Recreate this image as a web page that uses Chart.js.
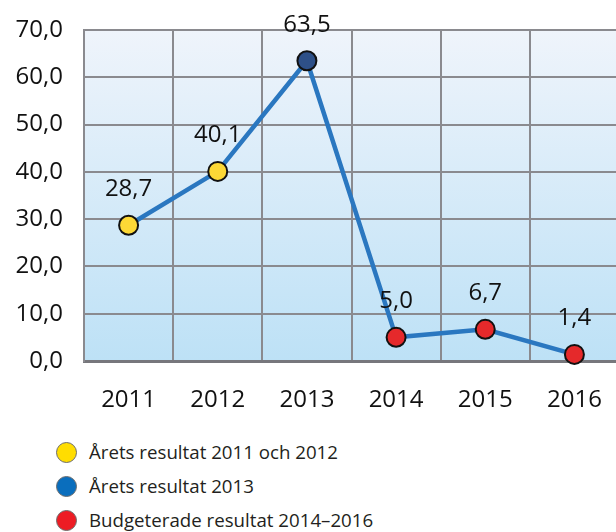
<!doctype html>
<html lang="sv">
  <head>
    <meta charset="utf-8">
    <title>Resultat 2011–2016</title>
    <style>
      * { margin: 0; padding: 0; }
      body { width: 616px; height: 532px; background: #fff; position: relative; overflow: hidden; font-family: "Open Sans", sans-serif; }
      .chartBox { position: absolute; left: 0; top: 0; width: 619px; height: 420px; }
      .legend { position: absolute; left: 56px; top: 441px; }
      .legend div { height: 34px; display: flex; align-items: flex-start; font-size: 18.7px; line-height: 22px; color: #231f20; }
      .legend span { display: inline-block; width: 21px; height: 21px; border-radius: 50%; border: 1px solid #6d6d6d; box-sizing: border-box; margin-right: 12px; margin-top: 1px; }
    </style>
  </head>
  <body>
    <div class="chartBox"><canvas id="lineChart" width="619" height="420"></canvas></div>
    <div class="legend" id="legend"></div>

    <script src="https://cdn.jsdelivr.net/npm/chart.js"></script>
    <script>
    // data
    const years = ['2011', '2012', '2013', '2014', '2015', '2016'];
    const result = [28.7, 40.1, 63.5, 5.0, 6.7, 1.4];
    const pointColors = ['#fcd836', '#fcd836', '#2e5088', '#e5292b', '#e5292b', '#e5292b'];
    const yTicks = [0, 10, 20, 30, 40, 50, 60, 70];
    const legendLabels = ['Årets resultat 2011 och 2012', 'Årets resultat 2013', 'Budgeterade resultat 2014–2016'];
    const legendColors = ['#ffdd00', '#0a6ebd', '#ed1c24'];

    const fmt = v => v.toFixed(1).replace('.', ',');

    // plot area gradient
    const plotBg = {
      id: 'plotBg',
      beforeDraw(chart) {
        const { ctx, chartArea: a } = chart;
        const g = ctx.createLinearGradient(0, a.top, 0, a.bottom);
        g.addColorStop(0, '#eff4fb');
        g.addColorStop(1, '#bde1f6');
        ctx.save();
        ctx.fillStyle = g;
        ctx.fillRect(a.left, a.top, a.right - a.left, a.bottom - a.top);
        ctx.restore();
      }
    };

    // value labels above the points
    const valueLabels = {
      id: 'valueLabels',
      afterDatasetsDraw(chart) {
        const { ctx } = chart;
        const meta = chart.getDatasetMeta(0);
        ctx.save();
        ctx.font = '24px "Open Sans"';
        ctx.fillStyle = '#111';
        ctx.textAlign = 'center';
        ctx.textBaseline = 'middle';
        meta.data.forEach((pt, i) => {
          ctx.fillText(fmt(result[i]), pt.x, pt.y - 36);
        });
        ctx.restore();
      }
    };

    const data = {
      labels: years,
      datasets: [{
        data: result,
        borderColor: '#2a77c0',
        borderWidth: 4.5,
        pointRadius: 9.5,
        pointHoverRadius: 9.5,
        pointBackgroundColor: pointColors,
        pointBorderColor: '#111',
        pointBorderWidth: 2,
        tension: 0,
        clip: false
      }]
    };

    const config = {
      type: 'line',
      data,
      options: {
        responsive: false,
        animation: false,
        layout: { autoPadding: false, padding: { top: 30, right: 0, left: 0, bottom: 0 } },
        plugins: { legend: { display: false }, tooltip: { enabled: false } },
        scales: {
          x: {
            offset: true,
            grid: {
              offset: true,
              drawTicks: false,
              color: '#8a8a8f',
              lineWidth: 2
            },
            border: { color: '#77777c', width: 3 },
            ticks: { font: { family: 'Open Sans', size: 24 }, color: '#111', padding: 25 },
            afterFit(s) { s.height = 59; s.paddingLeft = 0; s.paddingRight = 0; }
          },
          y: {
            min: 0,
            max: 70,
            afterBuildTicks(s) { s.ticks = yTicks.map(v => ({ value: v })); },
            grid: { drawTicks: false, color: '#8a8a8f', lineWidth: 2 },
            border: { color: '#8a8a8f', width: 2 },
            ticks: {
              font: { family: 'Open Sans', size: 24 },
              color: '#111',
              padding: 21,
              callback: v => fmt(v)
            },
            afterFit(s) { s.width = 84; s.paddingTop = 0; s.paddingBottom = 0; }
          }
        }
      },
      plugins: [plotBg, valueLabels]
    };

    new Chart(document.getElementById('lineChart'), config);

    // legend
    const leg = document.getElementById('legend');
    legendLabels.forEach((t, i) => {
      const row = document.createElement('div');
      const dot = document.createElement('span');
      dot.style.background = legendColors[i];
      row.appendChild(dot);
      row.appendChild(document.createTextNode(t));
      leg.appendChild(row);
    });
    </script>
  </body>
</html>
